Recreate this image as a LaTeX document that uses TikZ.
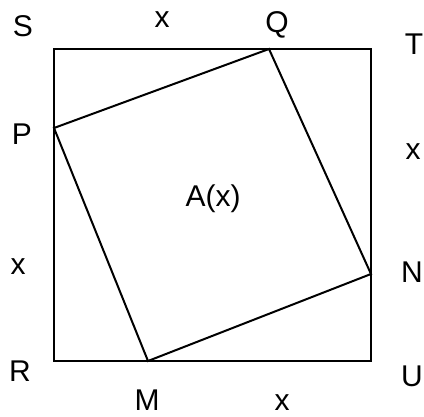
\documentclass[tikz,border=0pt]{standalone}
\usepackage{fontspec}
\setmainfont{Liberation Sans}
\begin{document}
\begin{tikzpicture}[x=1pt,y=-1pt,
  lbl/.style={anchor=base,inner sep=0pt,font=\fontsize{30}{34}\selectfont},
  edge/.style={line width=2pt,line join=miter}]
\useasboundingbox (0,0) rectangle (424,417);
% corners of outer square
\coordinate (s) at (54,49);
\coordinate (t) at (371,49);
\coordinate (u) at (371,361);
\coordinate (r) at (54,361);
% corners of inner square
\coordinate (q) at (269,49);
\coordinate (n) at (371,274);
\coordinate (m) at (148,361);
\coordinate (p) at (54,128);
\draw[edge] (s) -- (t) -- (u) -- (r) -- cycle;
\draw[edge] (p) -- (q) -- (n) -- (m) -- cycle;
% labels
\node[lbl] (lS) at (23,37) {S};
\node[lbl] (lx1) at (162,28) {x};
\node[lbl] (lQ) at (277,33) {Q};
\node[lbl] (lT) at (414,55) {T};
\node[lbl] (lP) at (22,145) {P};
\node[lbl] (lx2) at (413,160) {x};
\node[lbl] (lA) at (213,207) {A(x)};
\node[lbl] (lx3) at (18,275) {x};
\node[lbl] (lN) at (412,283) {N};
\node[lbl] (lR) at (20,382) {R};
\node[lbl] (lU) at (412,387) {U};
\node[lbl] (lM) at (147,411) {M};
\node[lbl] (lx4) at (282,411) {x};
\end{tikzpicture}
\end{document}
